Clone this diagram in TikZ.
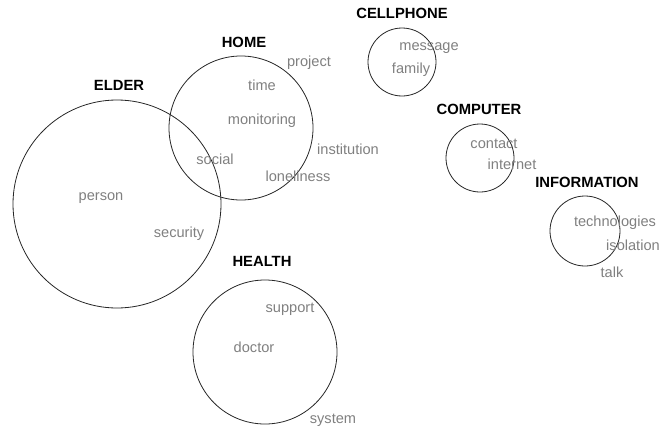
\documentclass[tikz,border=0pt]{standalone}
\usepackage{fontspec}
\setmainfont{Liberation Sans}
\usetikzlibrary{positioning}

\begin{document}
\begin{tikzpicture}[x=1pt,y=-1pt,
      every node/.style={font=\fontsize{14.6}{17}\selectfont},
      topic/.style={draw=black!85,line width=0.8pt,circle,inner sep=0pt},
      title/.style={font=\fontsize{14.8}{17}\selectfont\bfseries,text=black},
      word/.style={text=black!50}]
      \useasboundingbox (0,0) rectangle (671,431);
      % circles
      \node[topic, minimum size=208pt] (elder)  at (117,204) {};
      \node[topic, minimum size=144pt] (home)   at (241,128) {};
      \node[topic, minimum size=68pt]  (cell)   at (402,62)  {};
      \node[topic, minimum size=68pt]  (comp)   at (480,158) {};
      \node[topic, minimum size=70pt]  (info)   at (585,231) {};
      \node[topic, minimum size=144pt] (health) at (265,352) {};
      % titles
      \node[title] (t-elder)  at (119,85)  {ELDER};
      \node[title] (t-home)   at (244,42)  {HOME};
      \node[title] (t-cell)   at (402,13)  {CELLPHONE};
      \node[title] (t-comp)   at (479,109) {COMPUTER};
      \node[title] (t-info)   at (587,182) {INFORMATION};
      \node[title] (t-health) at (262,261) {HEALTH};
      % words
      \node[word] (w-project)     at (309,63)  {project};
      \node[word] (w-time)        at (262,85)  {time};
      \node[word] (w-monitoring)  at (262,121) {monitoring};
      \node[word] (w-institution) at (348,149) {institution};
      \node[word] (w-social)      at (215,159) {social};
      \node[word] (w-loneliness)  at (298,176) {loneliness};
      \node[word] (w-person)      at (101,198) {person};
      \node[word] (w-security)    at (179,234) {security};
      \node[word] (w-message)     at (429,48)  {message};
      \node[word] (w-family)      at (411,70)  {family};
      \node[word] (w-contact)     at (494,144) {contact};
      \node[word] (w-internet)    at (512,164) {internet};
      \node[word] (w-tech)        at (615,223) {technologies};
      \node[word] (w-isolation)   at (633,245) {isolation};
      \node[word] (w-talk)        at (612,272) {talk};
      \node[word] (w-support)     at (290,309) {support};
      \node[word] (w-doctor)      at (254,347) {doctor};
      \node[word] (w-system)      at (333,420) {system};
    \end{tikzpicture}
\end{document}
